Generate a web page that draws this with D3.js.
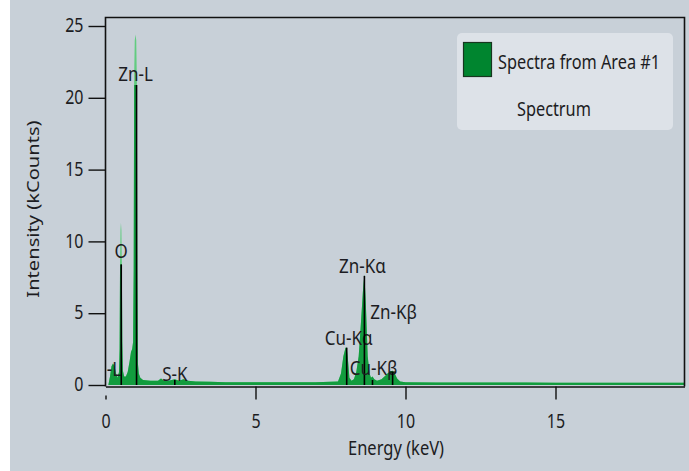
<!DOCTYPE html>
<html>
<head>
<meta charset="utf-8">
<script src="https://cdn.jsdelivr.net/npm/d3@7/dist/d3.min.js"></script>
<style>
  html, body { margin: 0; padding: 0; background: #ffffff; }
  svg { display: block; }
  text { font-family: "Noto Sans", "Open Sans", sans-serif; fill: #1c1c22; }
</style>
</head>
<body>
<svg id="chart" width="689" height="471"></svg>
<script>
// ---------------- DATA ----------------
// Energy (keV) and intensity (kCounts)
const energy = [0.10, 0.15, 0.20, 0.25, 0.30, 0.35, 0.40, 0.45, 0.47, 0.485, 0.50, 0.515, 0.53, 0.545,
  0.56, 0.58, 0.62, 0.68, 0.74, 0.80, 0.85, 0.89, 0.92, 0.94, 0.955, 0.975, 1.00, 1.025, 1.045,
  1.06, 1.08, 1.11, 1.16, 1.25, 1.50, 1.75, 1.85, 1.95, 2.10, 2.31, 2.45, 2.60, 2.75, 3.00,
  3.50, 4.00, 5.00, 6.00, 7.00, 7.75, 7.85, 7.93, 8.00, 8.04, 8.08, 8.13, 8.20, 8.28, 8.36, 8.44,
  8.52, 8.58, 8.63, 8.68, 8.74, 8.80, 8.85, 8.90, 8.96, 9.05, 9.20, 9.30, 9.40, 9.50, 9.57, 9.64,
  9.72, 9.82, 10.0, 11.0, 12.0, 13.0, 14.0, 15.0, 16.0, 17.0, 18.0, 19.3];
const counts = [0.05, 0.6, 1.3, 1.5, 1.3, 0.8, 0.5, 0.9, 2.5, 8.6, 10.8, 11.3, 10.8, 8.6,
  3.0, 1.0, 0.6, 0.6, 0.9, 1.6, 2.3, 2.5, 3.0, 8.0, 21.5, 24.0, 24.4, 24.0, 21.2,
  8.0, 1.5, 0.8, 0.5, 0.35, 0.3, 0.3, 0.45, 0.3, 0.3, 0.4, 0.3, 0.4, 0.3, 0.25,
  0.22, 0.2, 0.2, 0.2, 0.2, 0.25, 0.8, 2.0, 2.6, 2.6, 1.8, 0.5, 0.3, 0.4, 0.9, 2.0,
  4.5, 6.5, 7.7, 5.5, 2.0, 0.8, 0.5, 0.6, 0.4, 0.3, 0.4, 0.6, 0.8, 0.95, 1.0, 0.8,
  0.45, 0.25, 0.2, 0.18, 0.18, 0.17, 0.17, 0.16, 0.16, 0.15, 0.15, 0.15];
// Darker filled spectrum (tops of the O and Zn-L peaks stay light)
const countsFill = [0.05, 0.6, 1.3, 1.5, 1.3, 0.8, 0.5, 0.9, 2.5, 8.4, 8.4, 8.4, 8.4, 8.4,
  3.0, 1.0, 0.6, 0.6, 0.9, 1.6, 2.3, 2.5, 3.0, 8.0, 20.9, 20.9, 20.9, 20.9, 20.9,
  8.0, 1.5, 0.8, 0.5, 0.35, 0.3, 0.3, 0.45, 0.3, 0.3, 0.4, 0.3, 0.4, 0.3, 0.25,
  0.22, 0.2, 0.2, 0.2, 0.2, 0.25, 0.8, 2.0, 2.6, 2.6, 1.8, 0.5, 0.3, 0.4, 0.9, 2.0,
  4.5, 6.5, 7.7, 5.5, 2.0, 0.8, 0.5, 0.6, 0.4, 0.3, 0.4, 0.6, 0.8, 0.95, 1.0, 0.8,
  0.45, 0.25, 0.2, 0.18, 0.18, 0.17, 0.17, 0.16, 0.16, 0.15, 0.15, 0.15];

// Element marker lines
const markerLabels = ["-L", "O", "Zn-L", "S-K", "Cu-Kα", "Zn-Kα", "Cu-Kβ", "Zn-Kβ"];
const markerEnergy = [0.28, 0.525, 1.035, 2.31, 8.04, 8.63, 8.90, 9.57];
const markerTop    = [0.0, 8.4, 20.9, 0.35, 2.6, 7.6, 0.35, 0.9];

const xTicks = [0, 5, 10, 15];
const yTicks = [0, 5, 10, 15, 20, 25];
const legendSeries = ["Spectra from Area #1"];
const legendSub = "Spectrum";
const xTitle = "Energy (keV)";
const yTitle = "Intensity (kCounts)";

// ---------------- LAYOUT ----------------
const W = 689, H = 471;
const plot = { left: 105.5, right: 684.5, top: 17.5, bottom: 386.5 };
const bg = "#c8d0d8";
const SY = 1.22; // vertical stretch of the lettering in the original picture
const svg = d3.select("#chart");

function label(parent, x, y, str, size, anchor, rotate) {
  const g = parent.append("g")
    .attr("transform", rotate
      ? `translate(${x},${y}) rotate(-90) scale(${SY},1)`
      : `translate(${x},${y}) scale(1,${SY})`);
  g.append("text")
    .attr("text-anchor", anchor || "middle")
    .attr("dominant-baseline", "central")
    .attr("font-size", size)
    .text(str);
  return g;
}

svg.append("rect").attr("x", 0).attr("y", 0).attr("width", W).attr("height", H).attr("fill", "#ffffff");
svg.append("rect").attr("x", 10).attr("y", 0).attr("width", W - 10).attr("height", H).attr("fill", bg);

const x = d3.scaleLinear().domain([0, 19.3]).range([plot.left, plot.right]);
const y = d3.scaleLinear().domain([0, 25]).range([385, 26]);

const pts = energy.map((e, i) => ({ e, c: counts[i], f: countsFill[i] }));

// light green (full spectrum)
svg.append("path")
  .datum(pts)
  .attr("fill", "#62cc80")
  .attr("d", d3.area().x(d => x(d.e)).y0(y(0)).y1(d => y(d.c)));
// dark green fill
svg.append("path")
  .datum(pts)
  .attr("fill", "#129c3e")
  .attr("d", d3.area().x(d => x(d.e)).y0(y(0)).y1(d => y(d.f)));

// marker lines
const labelDy = [-12, -14, -12, -7, -10, -11, -13, -61]; // label centre offset above line top (px)
const labelDx = [0, 0, -1, 0, 2, -2, 1, 1];
markerLabels.forEach((lab, i) => {
  if (markerTop[i] > 0) {
    svg.append("line")
      .attr("x1", x(markerEnergy[i])).attr("x2", x(markerEnergy[i]))
      .attr("y1", y(markerTop[i])).attr("y2", y(0))
      .attr("stroke", "#000").attr("stroke-width", 1.6);
  }
  const ly = (markerTop[i] > 0 ? y(markerTop[i]) : 380) + labelDy[i];
  label(svg, x(markerEnergy[i]) + labelDx[i], ly, lab, 17, "middle");
});
// small cross stroke on Zn-Kβ marker
svg.append("line")
  .attr("x1", x(9.57) - 3).attr("x2", x(9.57) + 3)
  .attr("y1", y(0.9)).attr("y2", y(0.9))
  .attr("stroke", "#000").attr("stroke-width", 1.2);

// frame
svg.append("path")
  .attr("d", `M${plot.left},${plot.bottom}V${plot.top}H${plot.right}V${plot.bottom}`)
  .attr("fill", "none").attr("stroke", "#111").attr("stroke-width", 1.6);

// axes
const xAxis = d3.axisBottom(x).tickValues(xTicks).tickSize(13).tickSizeOuter(0);
const gx = svg.append("g").attr("transform", `translate(0,${plot.bottom})`).call(xAxis);
gx.select(".domain").attr("stroke", "#111").attr("stroke-width", 1.6);
gx.selectAll(".tick line").attr("stroke", "#111").attr("stroke-width", 1.4)
  .attr("y1", d => d === 0 ? 9 : 0);
gx.selectAll(".tick text").remove();
gx.selectAll(".tick").each(function (d) {
  label(d3.select(this), 0, 420 - plot.bottom, d3.format("d")(d), 16, "middle");
});

const yAxis = d3.axisLeft(y).tickValues(yTicks).tickSize(17).tickSizeOuter(0);
const gy = svg.append("g").attr("transform", `translate(${plot.left},0)`).call(yAxis);
gy.select(".domain").remove();
gy.selectAll(".tick line").attr("stroke", "#111").attr("stroke-width", 1.4);
gy.selectAll(".tick text").remove();
gy.selectAll(".tick").each(function (d) {
  label(d3.select(this), -22, -2, d3.format("d")(d), 16, "end");
});

// axis titles
label(svg, 396, 447, xTitle, 16.5, "middle");
label(svg, 32, 209, yTitle, 16.5, "middle", true);

// legend
const lg = svg.append("g");
lg.append("rect").attr("x", 457).attr("y", 33).attr("width", 216).attr("height", 97)
  .attr("rx", 5).attr("fill", "#dde2e8");
lg.append("rect").attr("x", 463.5).attr("y", 42.5).attr("width", 28).attr("height", 34)
  .attr("fill", "#00852f").attr("stroke", "#17361f").attr("stroke-width", 1.2);
label(lg, 498, 61, legendSeries[0], 16.3, "start");
label(lg, 517, 108, legendSub, 16.3, "start");
</script>
</body>
</html>
